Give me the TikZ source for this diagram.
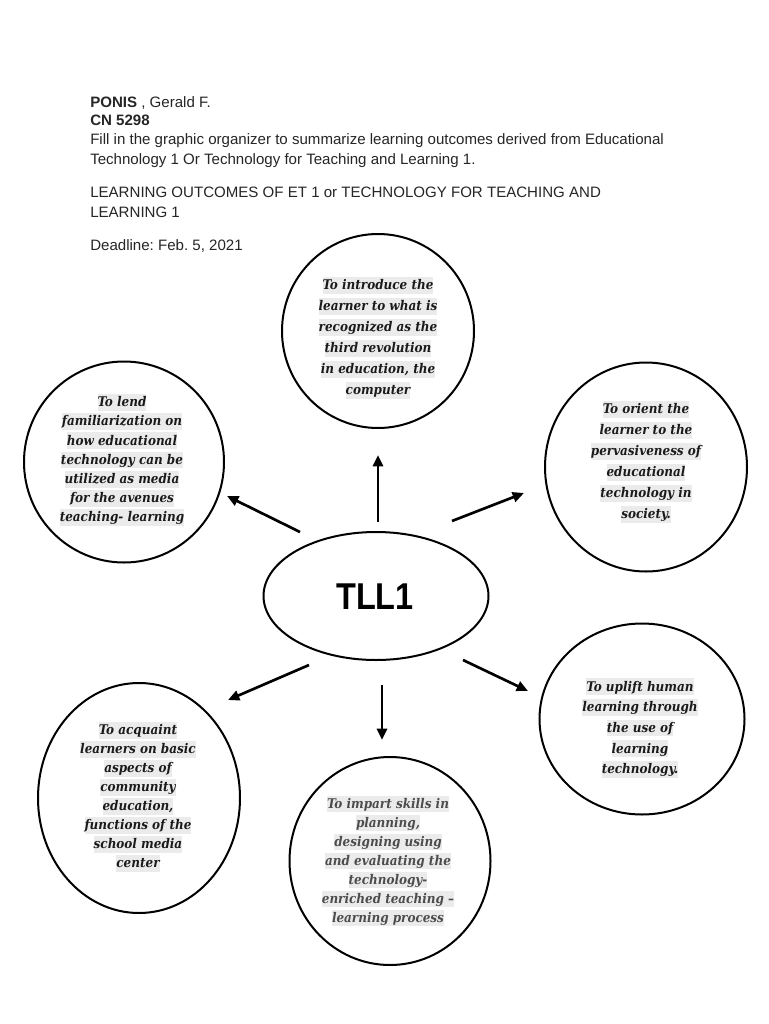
\documentclass[tikz,border=0pt]{standalone}
\usepackage{fontspec}
\usetikzlibrary{shapes.geometric,arrows.meta}
\setmainfont{Liberation Sans}
\newfontfamily\circfont{DejaVu Serif Condensed}
\frenchspacing
\definecolor{hlgray}{HTML}{EBEBEB}
\definecolor{txtdark}{HTML}{1A1A1A}
\definecolor{txtgray}{HTML}{4C4C4C}
\definecolor{hdrcol}{HTML}{262626}
\newcommand\hlline[1]{{\setlength{\fboxsep}{0pt}\colorbox{hlgray}{\rule[-3pt]{0pt}{12.5pt}#1}}}
\begin{document}
\begin{tikzpicture}[x=0.75pt,y=-0.75pt,
  bubble/.style={draw,line width=1.5pt,ellipse,inner sep=0pt},
  bubtext/.style={align=center,font=\circfont\bfseries\itshape\fontsize{10}{#1}\selectfont,text=txtdark,inner sep=0pt},
  bubtext/.default=15.75,
  hdr/.style={anchor=base west,inner sep=0pt,text=hdrcol,font=\fontsize{11.3}{13}\selectfont},
  arr/.style={line width=2pt,-{Triangle[length=8.5pt,width=7.5pt]}}]
\useasboundingbox (0,0) rectangle (768,1024);
\fill[white] (0,0) rectangle (768,1024);
% header
\node[hdr] (h1) at (90,108) {\textbf{PONIS} , Gerald F.};
\node[hdr] (h2) at (90,125) {\textbf{CN 5298}};
\node[hdr] (h3) at (90,144) {Fill in the graphic organizer to summarize learning outcomes derived from Educational};
\node[hdr] (h4) at (90,164) {Technology 1 Or Technology for Teaching and Learning 1.};
\node[hdr] (h5) at (90,197) {LEARNING OUTCOMES OF ET 1 or TECHNOLOGY FOR TEACHING AND};
\node[hdr] (h6) at (90,217) {LEARNING 1};
\node[hdr] (h7) at (90,250) {Deadline: Feb. 5, 2021};
% bubbles
\node[bubble,minimum width=144pt,minimum height=145.5pt] (top) at (378,331) {};
\node[bubble,minimum width=150pt,minimum height=150.75pt] (left) at (124,462) {};
\node[bubble,minimum width=151.5pt,minimum height=156.75pt] (right) at (646,467) {};
\node[bubble,minimum width=168.75pt,minimum height=96pt] (center) at (376,596) {};
\node[bubble,minimum width=151.5pt,minimum height=172.5pt] (lleft) at (139,798) {};
\node[bubble,minimum width=150.75pt,minimum height=156pt] (bottom) at (390,861) {};
\node[bubble,minimum width=153.75pt,minimum height=143.25pt] (lright) at (642,719) {};
% texts
\node[inner sep=0pt,font=\bfseries\fontsize{28}{32}\selectfont] (tll) at (375,597) {\scalebox{0.87}[1]{TLL1}};
\node[bubtext] (ttop) at (378,338) {\hlline{To introduce the}\\\hlline{learner to what is}\\\hlline{recognized as the}\\\hlline{third revolution}\\\hlline{in education, the}\\\hlline{computer}};
\node[bubtext=14.4] (tleft) at (122,460) {\hlline{To lend}\\\hlline{familiarization on}\\\hlline{how educational}\\\hlline{technology can be}\\\hlline{utilized as media}\\\hlline{for the avenues}\\\hlline{teaching- learning}};
\node[bubtext] (tright) at (646,462) {\hlline{To orient the}\\\hlline{learner to the}\\\hlline{pervasiveness of}\\\hlline{educational}\\\hlline{technology in}\\\hlline{society.}};
\node[bubtext=15.5] (tlright) at (640,728) {\hlline{To uplift human}\\\hlline{learning through}\\\hlline{the use of}\\\hlline{learning}\\\hlline{technology.}};
\node[bubtext=14.25] (tlleft) at (138,797) {\hlline{To acquaint}\\\hlline{learners on basic}\\\hlline{aspects of}\\\hlline{community}\\\hlline{education,}\\\hlline{functions of the}\\\hlline{school media}\\\hlline{center}};
\node[bubtext=14.25,text=txtgray] (tbottom) at (388,861) {\hlline{To impart skills in}\\\hlline{planning,}\\\hlline{designing using}\\\hlline{and evaluating the}\\\hlline{technology-}\\\hlline{enriched teaching –}\\\hlline{learning process}};
% arrow end points
\coordinate (a1s) at (378,522); \coordinate (a1e) at (378,455);
\coordinate (a2s) at (300,532); \coordinate (a2e) at (227,496);
\coordinate (a3s) at (452,521); \coordinate (a3e) at (524,493);
\coordinate (a4s) at (309,665); \coordinate (a4e) at (228,700);
\coordinate (a5s) at (382,685); \coordinate (a5e) at (382,740);
\coordinate (a6s) at (463,660); \coordinate (a6e) at (528,691);
\draw[arr] (a1s) -- (a1e);
\draw[arr] (a2s) -- (a2e);
\draw[arr] (a3s) -- (a3e);
\draw[arr] (a4s) -- (a4e);
\draw[arr] (a5s) -- (a5e);
\draw[arr] (a6s) -- (a6e);
\end{tikzpicture}
\end{document}
